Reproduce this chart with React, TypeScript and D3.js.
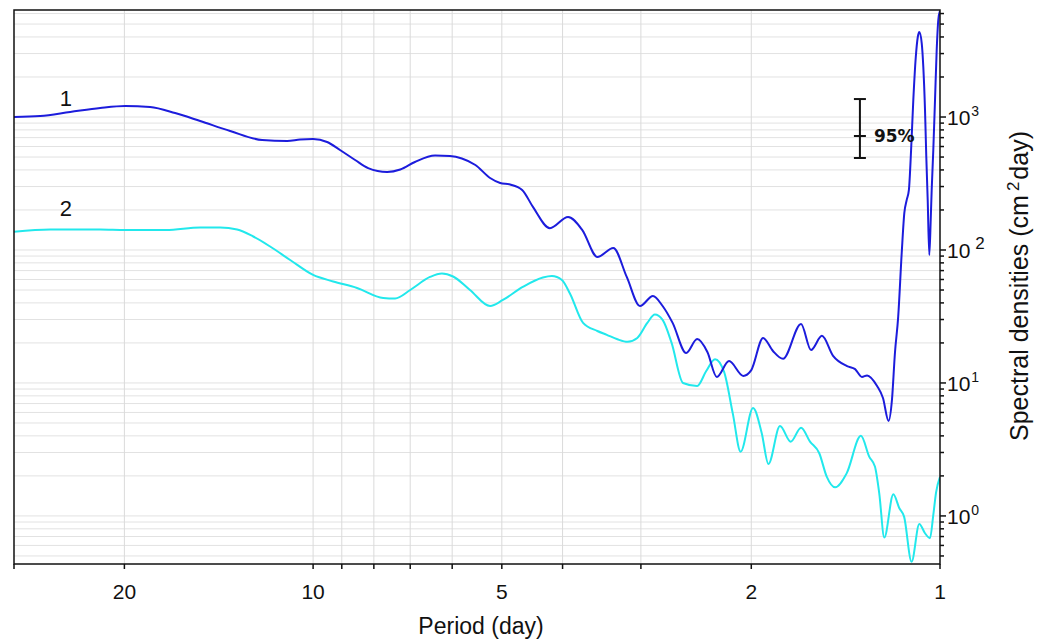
import React from "react";
import * as d3 from "d3";

// ---- Data (period in days, spectral density in cm^2·day) ----
const periods1 = [30.0, 27.25, 24.41, 21.86, 19.94, 18.2, 16.6, 15.14, 13.56, 12.06, 11.0, 10.49, 10.0, 9.5, 9.06, 8.57, 8.17, 7.62, 7.26, 6.88, 6.39, 6.05, 5.79, 5.51, 5.22, 5.03, 4.85, 4.64, 4.46, 4.19, 3.92, 3.72, 3.52, 3.32, 3.16, 3.01, 2.87, 2.77, 2.67, 2.54, 2.44, 2.35, 2.27, 2.17, 2.06, 2.0, 1.915, 1.847, 1.78, 1.666, 1.606, 1.543, 1.481, 1.407, 1.366, 1.332, 1.307, 1.26, 1.233, 1.208, 1.193, 1.18, 1.166, 1.151, 1.14, 1.13, 1.121, 1.112, 1.103, 1.093, 1.085, 1.079, 1.0695, 1.0632, 1.0566, 1.0516, 1.0462, 1.0401, 1.0347, 1.031, 1.0249, 1.0185, 1.0122, 1.0063, 1.0];
const density1 = [1000, 1017, 1090, 1169, 1210, 1189, 1072, 933, 785, 671, 660, 677, 683, 649, 565, 475, 413, 386, 403, 459, 513, 509, 488, 436, 348, 319, 311, 283, 211, 146, 177, 141, 88.6, 103.5, 62.7, 37.9, 45.1, 37.9, 28.3, 16.8, 21.4, 17.1, 11.1, 14.6, 11.3, 12.5, 21.8, 17.4, 15.2, 27.8, 17.7, 22.6, 16.0, 13.4, 12.7, 11.1, 11.4, 9.49, 7.71, 5.18, 7.45, 16.8, 31.4, 94.9, 190, 238, 283, 565, 1342, 2826, 3995, 4357, 3601, 2376, 1129, 500, 238, 91.7, 168, 283, 565, 1342, 3190, 5362, 6300];

const periods2 = [30.0, 26.27, 21.86, 19.94, 17.16, 15.14, 14.07, 13.22, 12.46, 11.71, 10.88, 10.0, 9.29, 8.51, 7.73, 7.4, 7.0, 6.51, 6.23, 5.98, 5.62, 5.22, 4.98, 4.63, 4.3, 4.16, 4.01, 3.89, 3.71, 3.52, 3.4, 3.27, 3.15, 3.04, 2.93, 2.85, 2.77, 2.68, 2.57, 2.44, 2.36, 2.285, 2.21, 2.14, 2.08, 1.987, 1.925, 1.878, 1.8, 1.73, 1.666, 1.612, 1.558, 1.516, 1.47, 1.409, 1.337, 1.297, 1.27, 1.25, 1.227, 1.187, 1.161, 1.141, 1.11, 1.079, 1.0566, 1.0374, 1.0249, 1.0148, 1.0];
const density2 = [137.3, 142.6, 142.6, 141.4, 141.4, 147.6, 147.6, 142.6, 126.3, 106.2, 84.1, 64.9, 58.0, 51.8, 43.6, 43.2, 50.0, 62.7, 66.6, 63.2, 50.0, 37.9, 42.1, 52.7, 62.1, 63.7, 59.5, 46.7, 28.3, 24.6, 23.0, 21.3, 20.4, 21.8, 28.3, 32.7, 29.8, 20.0, 10.0, 9.49, 12.3, 15.1, 12.1, 5.85, 3.04, 6.49, 4.21, 2.46, 4.75, 3.62, 4.61, 3.62, 2.96, 1.975, 1.64, 2.09, 4.0, 2.79, 2.35, 1.48, 0.687, 1.456, 1.143, 0.988, 0.453, 0.871, 0.741, 0.68, 1.017, 1.489, 1.965];

// 95% confidence bar
const ciPeriod = 1.342;
const ciLow = 492;
const ciMid = 720;
const ciHigh = 1365;
const ciLabel = "95%";

// axes
const xDomain = [30, 1];
const yDomain = [0.435, 6380];
const xTickValues = [30, 20, 10, 9, 8, 7, 6, 5, 4, 3, 2, 1];
const xGridValues = [20, 10, 9, 8, 7, 6, 5, 4, 3, 2];
const xLabelValues = [20, 10, 5, 2, 1];
const yLabelExps = [0, 1, 2, 3];

// series annotations
const seriesLabels = [
  { text: "1", period: 24.8, value: 1210 },
  { text: "2", period: 24.8, value: 180 },
];

const W = 1045;
const H = 644;
const L = 14, R = 940, T = 10, B = 564;
const FONT = "'Liberation Sans', Arial, sans-serif";

export default function App() {
  const x = d3.scaleLog().domain(xDomain).range([L, R]);
  const y = d3.scaleLog().domain(yDomain).range([B, T]);

  const line = d3
    .line<[number, number]>()
    .x((d) => x(d[0]))
    .y((d) => y(d[1]))
    .curve(d3.curveMonotoneX);

  const s1 = periods1.map((p, i) => [p, density1[i]] as [number, number]);
  const s2 = periods2.map((p, i) => [p, density2[i]] as [number, number]);

  const yTicks = y.ticks().filter((v) => v >= yDomain[0] && v <= yDomain[1]);
  const isMajor = (v: number) => Math.abs(Math.log10(v) - Math.round(Math.log10(v))) < 1e-6;

  const cx = x(ciPeriod);

  return (
    <svg
      width={W}
      height={H}
      style={{ position: "absolute", left: 0, top: 0, background: "#fff" }}
      fontFamily={FONT}
    >
      <defs>
        <clipPath id="plot">
          <rect x={L} y={T} width={R - L} height={B - T} />
        </clipPath>
      </defs>
      <rect x={0} y={0} width={W} height={H} fill="#fff" />

      {/* grid */}
      {yTicks.map((v, i) => (
        <line key={"gy" + i} x1={L} x2={R} y1={y(v)} y2={y(v)} stroke="#e2e2e2" strokeWidth={1} />
      ))}
      {xGridValues.map((v, i) => (
        <line key={"gx" + i} x1={x(v)} x2={x(v)} y1={T} y2={B} stroke="#dadada" strokeWidth={1} />
      ))}

      {/* series */}
      <g clipPath="url(#plot)">
        <path d={line(s2) || ""} fill="none" stroke="#22e8ec" strokeWidth={2} />
        <path d={line(s1) || ""} fill="none" stroke="#1c1cdc" strokeWidth={2} />
      </g>

      {/* frame */}
      <rect x={L} y={T} width={R - L} height={B - T} fill="none" stroke="#111" strokeWidth={1.5} />

      {/* x ticks */}
      {xTickValues.map((v, i) => (
        <line key={"tx" + i} x1={x(v)} x2={x(v)} y1={B} y2={B + 5} stroke="#111" strokeWidth={1.5} />
      ))}
      {xLabelValues.map((v, i) => (
        <text key={"lx" + i} x={x(v)} y={599} textAnchor="middle" fontSize={21} fill="#111">
          {v}
        </text>
      ))}

      {/* y ticks */}
      {yTicks.map((v, i) => (
        <line
          key={"ty" + i}
          x1={R}
          x2={R + (isMajor(v) ? 6 : 4)}
          y1={y(v)}
          y2={y(v)}
          stroke="#111"
          strokeWidth={1.5}
        />
      ))}
      {yLabelExps.map((e) => (
        <text key={"ly" + e} x={947} y={y(Math.pow(10, e)) + 8} fontSize={21} fill="#111">
          10
          <tspan dx={e === 2 ? 5 : 1} dy={-9} fontSize={e === 2 ? 17 : 14}>
            {e}
          </tspan>
        </text>
      ))}

      {/* axis titles */}
      <text x={481} y={634} textAnchor="middle" fontSize={23} fill="#111">
        Period (day)
      </text>
      <text
        transform={`translate(1028,${286}) rotate(-90)`}
        textAnchor="middle"
        fontSize={25}
        fill="#111"
      >
        Spectral densities (cm
        <tspan dx={4} dy={-9} fontSize={17}>2</tspan>
        <tspan dx={2} dy={9}>day)</tspan>
      </text>

      {/* series labels */}
      {seriesLabels.map((s, i) => (
        <text key={"sl" + i} x={x(s.period)} y={y(s.value)} textAnchor="middle" fontSize={22} fill="#111">
          {s.text}
        </text>
      ))}

      {/* 95% bar */}
      <g stroke="#111" strokeWidth={2}>
        <line x1={cx} x2={cx} y1={y(ciHigh)} y2={y(ciLow)} />
        <line x1={cx - 6} x2={cx + 6} y1={y(ciHigh)} y2={y(ciHigh)} />
        <line x1={cx - 6} x2={cx + 6} y1={y(ciLow)} y2={y(ciLow)} />
        <line x1={cx - 6} x2={cx + 6} y1={y(ciMid)} y2={y(ciMid)} />
      </g>
      <text x={cx + 14} y={y(ciMid) + 6} fontSize={17} fontWeight="bold" fontFamily="'DejaVu Sans', sans-serif" fill="#111">
        {ciLabel}
      </text>
    </svg>
  );
}
